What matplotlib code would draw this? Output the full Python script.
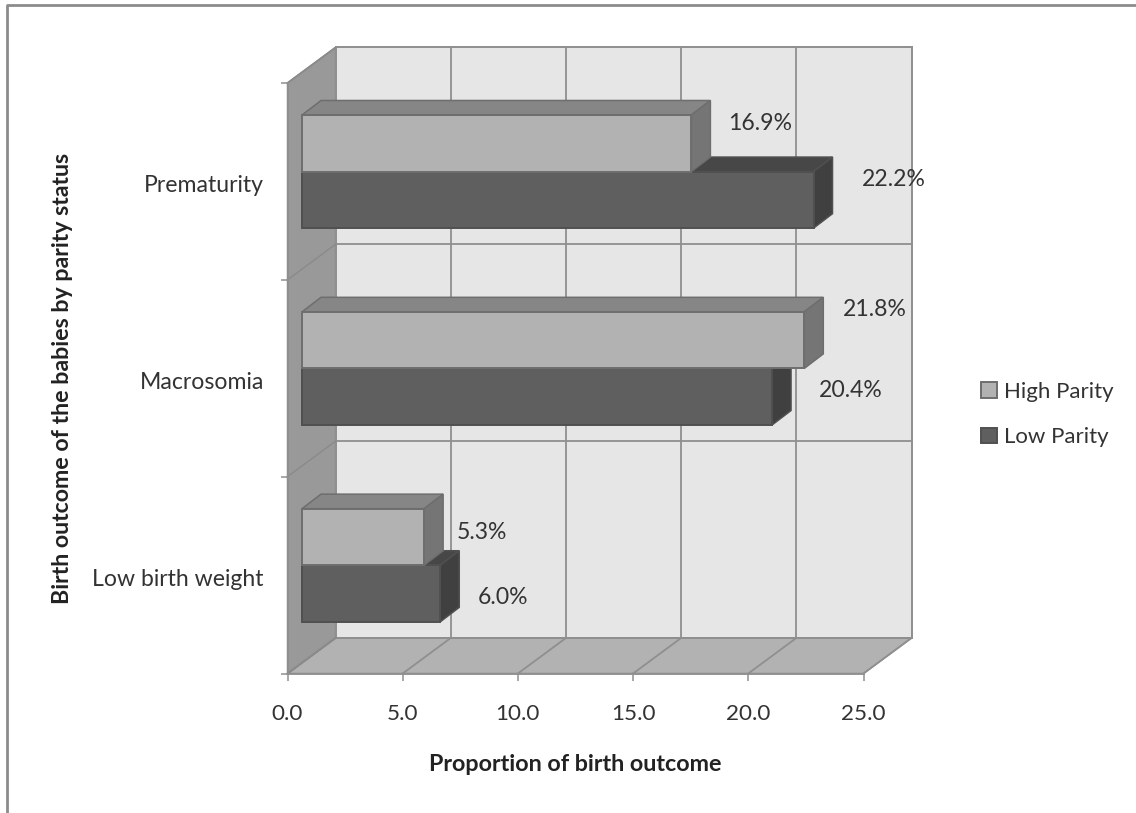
import matplotlib
matplotlib.use("Agg")
import matplotlib.pyplot as plt
from matplotlib.patches import Polygon
from matplotlib.lines import Line2D

categories = ["Low birth weight", "Macrosomia", "Prematurity"]
high_parity = [5.3, 21.8, 16.9]
low_parity = [6.0, 20.4, 22.2]
x_ticks = [0, 5, 10, 15, 20, 25]

W, H = 1136, 813
plt.rcParams["font.family"] = ["Lato", "DejaVu Sans"]
fig = plt.figure(figsize=(W / 100, H / 100), dpi=100, facecolor="white")
L, R, T, B = 287.5, 863.5, 83.0, 673.5
ax = fig.add_axes([L / W, 1 - B / H, (R - L) / W, (B - T) / H])
ax.set_xlim(0, 25)
ax.set_ylim(0, 3)
ax.patch.set_visible(False)
for s in ax.spines.values():
    s.set_visible(False)

ux = 25 / (R - L)   # data units per pixel
uy = 3 / (B - T)
dx, dy = 48 * ux, 35.5 * uy       # wall depth
bx, by = 19 * ux, 14.5 * uy       # bar depth
GRID = "#8f8f8f"
TXT = "#333333"


def poly(pts, fc, ec=GRID, z=1, lw=1.1):
    ax.add_patch(Polygon(pts, closed=True, fc=fc, ec=ec, lw=lw, zorder=z, clip_on=False, joinstyle="miter"))


def line(xs, ys, z=2, lw=1.3, c=GRID):
    ax.add_line(Line2D(xs, ys, color=c, lw=lw, zorder=z, clip_on=False))


# walls
poly([(dx, dy), (25 + dx, dy), (25 + dx, 3 + dy), (dx, 3 + dy)], "#e6e6e6", z=1)
poly([(0, 0), (25, 0), (25 + dx, dy), (dx, dy)], "#b2b2b2", z=1)
poly([(0, 0), (dx, dy), (dx, 3 + dy), (0, 3)], "#999999", z=1)

# gridlines
for t in x_ticks:
    line([t + dx, t + dx], [dy, 3 + dy])
    line([t, t + dx], [0, dy])
for v in range(4):
    line([dx, 25 + dx], [v + dy, v + dy])
    line([0, dx], [v, v + dy], lw=1.0 if v in (1, 2) else 1.3,
         c="#8a8a8a")
line([0, 25], [0, 0])
line([0, 0], [0, 3])

# bars
start = 0.63
height = 0.2875
shift = 0.05


def bar3d(ys, vals, front, top, side, edge, label, z):
    ax.barh(ys, vals, height=height, left=start, color=front, edgecolor=edge,
            linewidth=1.4, zorder=z + 1, label=label, clip_on=False)
    for y, v in zip(ys, vals):
        e = start + v
        yt, yb = y + height / 2, y - height / 2
        poly([(start, yt), (e, yt), (e + bx, yt + by), (start + bx, yt + by)], top, ec=edge, z=z, lw=1.1)
        poly([(e, yb), (e + bx, yb + by), (e + bx, yt + by), (e, yt)], side, ec=edge, z=z, lw=1.1)


pos = [i + 0.5 + shift for i in range(3)]
bar3d([p - height / 2 for p in pos], low_parity, "#5f5f5f", "#474747", "#404040", "#505050", "Low Parity", 3)
bar3d([p + height / 2 for p in pos], high_parity, "#b2b2b2", "#868686", "#757575", "#6e6e6e", "High Parity", 6)

# data labels (offset in px from bar end, bar centre)
high_off = [(58, 4), (71, 31), (69, 20)]
low_off = [(63, -4), (79, 6), (80, 20)]
for vals, sgn, offs in ((high_parity, 1, high_off), (low_parity, -1, low_off)):
    for i, (v, o) in enumerate(zip(vals, offs)):
        ax.annotate(f"{v:.1f}%", xy=(start + v, pos[i] + sgn * height / 2), xytext=(o[0] * 0.72, o[1] * 0.72),
                    textcoords="offset points", ha="center", va="center", fontsize=16.6, color=TXT, zorder=12,
                    annotation_clip=False)

# axes ticks
ax.set_xticks(x_ticks)
ax.set_xticklabels([f"{t:.1f}" for t in x_ticks], fontsize=16.2, color=TXT)
ax.set_yticks(range(4))
ax.set_yticklabels([])
ax.set_yticks([i + 0.487 for i in range(3)], minor=True)
ax.set_yticklabels(categories, minor=True, fontsize=16.6, color=TXT)
ax.tick_params(axis="x", length=5, width=1.1, color=GRID, pad=17)
ax.tick_params(axis="y", which="major", length=5, width=1.1, color=GRID)
ax.tick_params(axis="y", which="minor", length=0, pad=17)

fig.text(575 / W, 1 - 764 / H, "Proportion of birth outcome", ha="center", va="center",
         fontsize=16.8, fontweight="bold", color="#222222")
fig.text(63 / W, 1 - 378 / H, "Birth outcome of the babies by parity status", ha="center", va="center",
         rotation=90, fontsize=16.7, fontweight="bold", color="#222222")

# legend
hd, lb = ax.get_legend_handles_labels()
order = [lb.index("High Parity"), lb.index("Low Parity")]
fig.legend([hd[i] for i in order], [lb[i] for i in order], loc="center left",
           bbox_to_anchor=(981 / W, 1 - 414.5 / H), frameon=False, fontsize=16, labelcolor=TXT,
           handlelength=0.72, handleheight=0.7, handletextpad=0.3, labelspacing=1.14, borderpad=0, borderaxespad=0)

# outer frame
fig.add_artist(Line2D([6.5 / W, 6.5 / W, 1], [0, 1 - 5.5 / H, 1 - 5.5 / H], color="#8c8c8c", lw=2.0,
                      transform=fig.transFigure))

fig.savefig("out.png", dpi=100, facecolor="white")
